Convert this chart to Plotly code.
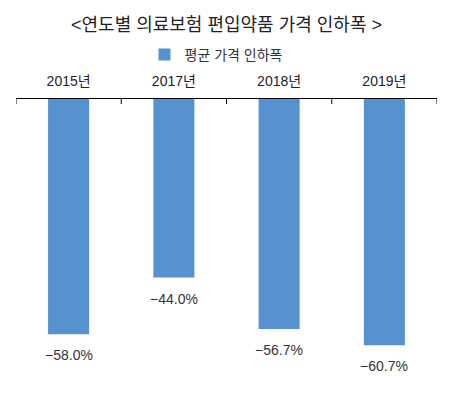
import plotly.graph_objects as go

categories = ["2015년", "2017년", "2018년", "2019년"]
values = [-58.0, -44.0, -56.7, -60.7]
series_name = "평균 가격 인하폭"
title_text = "<연도별 의료보험 편입약품 가격 인하폭 >"

FONT = "Liberation Sans, Noto Sans CJK KR, sans-serif"
BAR = "#5592cf"

# page body adds an 8px offset; figure is sized to fit the 457x396 window
W, H = 449, 388
PLOT_H = H - 91 - 13

fig = go.Figure()
fig.add_trace(go.Bar(
    x=categories, y=values, name=series_name,
    marker=dict(color=BAR, line=dict(width=0)),
    width=0.39, showlegend=True,
))

annotations = []
for c, v in zip(categories, values):
    annotations.append(dict(
        x=c, y=v, xref="x", yref="y", yshift=-21, showarrow=False,
        text=f"{v:.1f}%".replace("-", "−"),
        font=dict(family=FONT, size=14, color="#333333"),
    ))

# category boundary tick marks pointing down from the top axis line
shapes = []
for i in range(len(categories) + 1):
    shapes.append(dict(type="line", xref="x", yref="paper",
                       x0=i - 0.5, x1=i - 0.5, y0=1, y1=1 - 5 / PLOT_H,
                       line=dict(color="black", width=1), layer="above"))

fig.update_layout(
    width=W, height=H,
    margin=dict(l=8, r=20, t=91, b=13, autoexpand=False),
    paper_bgcolor="white", plot_bgcolor="white",
    title=dict(text=title_text, x=0.5, xanchor="center", xref="paper",
               y=1 - 17 / H, yref="container", yanchor="middle",
               font=dict(family=FONT, size=18, color="#222222")),
    legend=dict(orientation="h", x=0.5 - 10 / 421, xanchor="center", xref="paper",
                y=1 - 47 / H, yref="container", yanchor="middle",
                font=dict(family=FONT, size=14, color="#333333"),
                itemwidth=30),
    showlegend=True,
    bargap=0.61,
    annotations=annotations,
    shapes=shapes,
    xaxis=dict(side="top", showline=True, linecolor="black", linewidth=1,
               ticks="", ticklabelstandoff=6,
               range=[-0.5, len(categories) - 0.5],
               tickfont=dict(family=FONT, size=14, color="#222222"), showgrid=False,
               fixedrange=True),
    yaxis=dict(range=[-70, 0], visible=False, showgrid=False, zeroline=False),
)
fig.write_html("out.html")
